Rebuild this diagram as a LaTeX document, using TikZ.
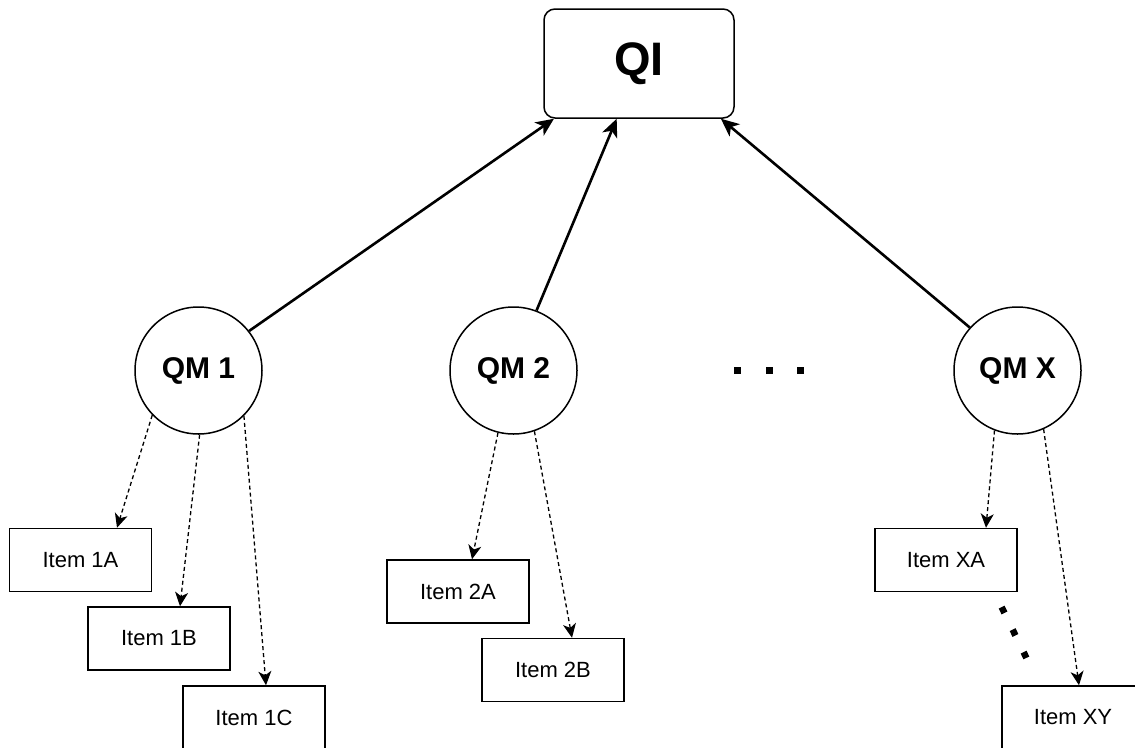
\documentclass[tikz,border=0pt]{standalone}
\usepackage{fontspec}
\setmainfont{Liberation Sans}
\usetikzlibrary{arrows.meta}
\begin{document}
\begin{tikzpicture}[x=1pt,y=-1pt,
 qm/.style={circle, draw, line width=1.5pt, minimum size=127pt, inner sep=0pt, font=\fontsize{30}{34}\selectfont\bfseries},
 itembox/.style={rectangle, draw, line width=1.5pt, minimum width=142pt, minimum height=63pt, inner sep=0pt, font=\fontsize{22}{26}\selectfont},
 topbox/.style={rectangle, rounded corners=11pt, draw, line width=1.5pt, minimum width=190pt, minimum height=109pt, inner sep=0pt, font=\fontsize{47}{52}\selectfont\bfseries},
 mainarrow/.style={line width=2.6pt, -{Stealth[length=18pt,width=16pt,inset=5pt]}},
 subarrow/.style={line width=1.3pt, dash pattern=on 4pt off 3pt, -{Stealth[length=14pt,width=13pt,inset=4pt]}},
 dotsq/.style={fill=black},
]
\useasboundingbox (0,0) rectangle (1135,747);
\clip (0,0) rectangle (1135,747);

\node[topbox] (qi) at (639,63.5) {QI};

\node[qm] (qm1) at (198.5,370.5) {QM 1};
\node[qm] (qm2) at (513.5,370.5) {QM 2};
\node[qm] (qmx) at (1017.5,370.5) {QM X};

\node[itembox] (i1a) at (80.5,560) {Item 1A};
\node[itembox] (i1b) at (159,638.5) {Item 1B};
\node[itembox] (i1c) at (254,717.5) {Item 1C};
\node[itembox] (i2a) at (458,591.5) {Item 2A};
\node[itembox] (i2b) at (553,670) {Item 2B};
\node[itembox] (ixa) at (946,560) {Item XA};
\node[itembox] (ixy) at (1073,717.5) {Item XY};

% main arrows
\draw[mainarrow] (qm1.38.8) -- (qi.213);
\draw[mainarrow] (qm2.69.3) -- (qi.248);
\draw[mainarrow] (qmx.138.7) -- (qi.326);

% dashed arrows
\draw[subarrow] (qm1.224.4) -- ([xshift=36.5pt]i1a.north);
\draw[subarrow] (qm1.-89.5) -- ([xshift=21pt]i1b.north);
\draw[subarrow] (qm1.-45) -- ([xshift=12pt]i1c.north);
\draw[subarrow] (qm2.256) -- ([xshift=14pt]i2a.north);
\draw[subarrow] (qm2.-71.8) -- ([xshift=19pt]i2b.north);
\draw[subarrow] (qmx.249.3) -- ([xshift=40pt]ixa.north);
\draw[subarrow] (qmx.-66.8) -- ([xshift=6pt]ixy.north);

% horizontal ellipsis
\foreach \xx in {737,769,800} {
  \fill[dotsq] (\xx-3.5,366.5) rectangle (\xx+3.5,373.5);
}
% slanted ellipsis between Item XA and Item XY
\draw[line width=6.5pt, dash pattern=on 6.5pt off 18.55pt] (1001.6,607.1) -- (1026.4,657.9);
\end{tikzpicture}
\end{document}
